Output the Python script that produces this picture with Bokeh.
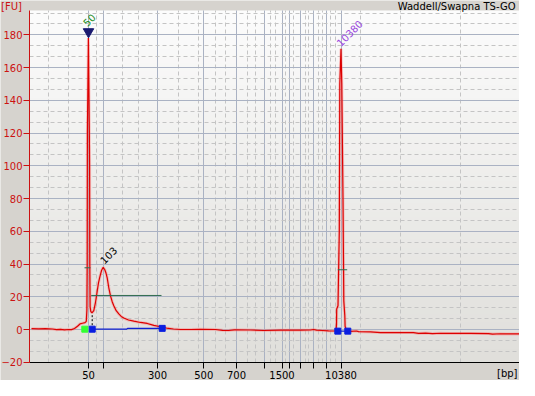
import numpy as np
from bokeh.plotting import figure
from bokeh.models import Range1d, FixedTicker, SingleIntervalTicker, Label, ColumnDataSource
from bokeh.core.properties import value
from bokeh.embed import file_html
from bokeh.resources import INLINE

# ---------------- data (x = migration time, arbitrary units; y = fluorescence FU) -------------
trace_time = [31, 38, 45, 52, 56, 60, 64, 68, 71, 74, 77, 79.5, 82, 84.5, 85.8, 86.4, 86.7, 86.9,
              87.9, 88.8, 89.1, 89.3, 89.6, 90.3, 91.5, 93.3, 95, 96.7, 98, 99.3, 101, 102.7,
              104.3, 105.5, 106.7, 108.3, 110, 111.7, 113.3, 115.7, 118.3, 120.7, 123.3, 128,
              133.3, 140, 146.7, 153.3, 160, 166, 173, 180, 190, 200, 215, 222, 228, 234, 250,
              263, 280, 300, 310, 313, 316, 322, 328, 334, 335.5, 336, 336.2, 337.5, 338.8,
              339.3, 340.5, 341.3, 342.5, 343.3, 344.3, 344.6, 346, 350, 356, 358, 370, 380,
              400, 413, 418, 425, 432, 440, 450, 470, 488, 492, 500, 505, 519]
trace_fu = [0.5, 0.4, 0.5, 0.3, -0.1, 0.1, -0.2, 0.0, -0.1, 0.6, 2.0, 3.4, 3.8, 4.2, 5.0, 12, 40, 121,
            178, 124, 100, 40, 14, 11, 10.2, 11.5, 16.5, 23.5, 28.5, 32, 36, 38,
            36.5, 34.5, 31.5, 25.5, 20.5, 17, 14.5, 11.5, 9.5, 8, 7, 5.8,
            5.1, 4.3, 3.7, 2.5, 1.7, 0.9, 0.3, 0.0, 0.0, 0.1, 0.0, -0.5, -0.6, -0.2, -0.3,
            -0.6, -0.4, -0.4, -0.3, 0.0, -0.4, -0.6, -0.8, -0.9, -0.9, 3, 12.5, 14.5, 60,
            150, 171.5, 150, 80, 17.5, 8.5, 2, -1.0, -1.2, -0.9, -1.3, -1.5, -1.9,
            -1.9, -1.9, -2.4, -2.2, -2.5, -2.3, -2.4, -2.4, -2.5, -2.8, -2.6, -2.7, -2.7]

# ladder (size axis)
ladder_time = [88.0, 102.7, 157.0, 203.3, 236.0, 264.3, 281.5, 288.5, 300.3, 312.7, 325.5, 340.5]
ladder_label = ["50", "", "300", "500", "700", "", "1500", "", "", "", "", "10380"]
minor_time = [48.3, 68.3, 95.7, 121.7, 138.3, 178, 198, 215, 225, 246.7, 255, 270, 275, 285,
              293, 305, 308, 318, 321.7, 330, 335, 360, 400, 460]

# peak labels
peak_x = [88.7, 108.0, 349.0]
peak_y = [189.1, 45.4, 181.1]
peak_text = ["50", "103", "10380"]
peak_color = ["#228b22", "#000000", "#9944dd"]

# marker triangle on lower marker
tri_x = [88.0]
tri_y = [181.9]

# region / baseline annotations
base1_x = [91.7, 126.0, 127.0, 161.7]
base1_y = [0.2, 0.2, 0.7, 0.7]
base2_x = [337.3, 347.3]
base2_y = [-1.0, -1.0]
blue_sq_x = [91.7, 161.7, 337.3, 347.3]
blue_sq_y = [0.2, 0.7, -1.0, -1.0]
green_sq_x = [84.3]
green_sq_y = [0.2]
level_x0 = [90.7, 84.0, 337.3]
level_x1 = [161.0, 90.0, 346.7]
level_y = [20.8, 37.7, 36.5]
peak_start_x = [91.7, 91.7]
peak_start_y = [0.2, 9.8]

# plot-area extents (time / FU)
PX0, PX1 = 29, 519
PY0, PY1 = -20.3, 194.9
# canvas extents (frame covers the whole canvas; axes are pinned inside)
CX0, CX1 = 0, 519
CY0, CY1 = -31.15, 200.98

p = figure(width=519, height=380, output_backend="svg", toolbar_location=None,
           x_range=Range1d(CX0, CX1), y_range=Range1d(CY0, CY1),
           min_border=0, min_border_left=0, min_border_right=0,
           min_border_top=0, min_border_bottom=0)
BG = "#d6d3ce"
p.border_fill_color = BG
p.background_fill_color = BG
p.outline_line_color = None

# gradient backdrop of plot area
n = 80
img = np.empty((n, 1), dtype=np.uint32)
view = img.view(dtype=np.uint8).reshape((n, 1, 4))
top = np.array([252, 252, 252]); bot = np.array([224, 223, 219])
for i in range(n):
    t = i / (n - 1)
    c = bot + (top - bot) * t
    view[i, 0, 0:3] = c.astype(np.uint8)
    view[i, 0, 3] = 255
p.image_rgba(image=[img], x=PX0, y=PY0, dw=PX1 - PX0, dh=PY1 - PY0, level="image")

FONT = value("DejaVu Sans")

# x axis
xt = FixedTicker(ticks=ladder_time, minor_ticks=minor_time)
xa = p.xaxis[0]
xa.ticker = xt
xa.fixed_location = PY0
xa.bounds = (PX0, PX1)
xa.major_label_overrides = {t: l for t, l in zip(ladder_time, ladder_label)}
xa.axis_line_color = "black"
xa.major_tick_line_color = "black"
xa.major_tick_out = 6
xa.major_tick_in = 0
xa.minor_tick_out = 0
xa.minor_tick_in = 0
xa.major_label_standoff = 2
xa.major_label_text_font = "DejaVu Sans"
xa.major_label_text_font_size = "10px"
xa.major_label_text_color = "black"
xg = p.xgrid[0]
xg.ticker = xt
xg.grid_line_color = "#aab2c3"
xg.minor_grid_line_color = "#c4c4c4"
xg.minor_grid_line_dash = "4 3"

# y axis
yt = SingleIntervalTicker(interval=20, num_minor_ticks=3)
ya = p.yaxis[0]
ya.ticker = yt
ya.fixed_location = PX0
ya.bounds = (PY0, PY1)
RED = "#cc1111"
ya.axis_line_color = RED
ya.major_tick_line_color = RED
ya.major_tick_out = 6
ya.major_tick_in = 0
ya.minor_tick_out = 0
ya.minor_tick_in = 0
ya.major_label_standoff = 1
ya.major_label_text_font = "DejaVu Sans"
ya.major_label_text_font_size = "10px"
ya.major_label_text_color = RED
yg = p.ygrid[0]
yg.ticker = yt
yg.grid_line_color = "#aab2c3"
yg.minor_grid_line_color = "#c4c4c4"
yg.minor_grid_line_dash = "4 3"

if "cross_bounds" in xg.properties():
    xg.bounds = (PX0 + 1, PX1)
    xg.cross_bounds = (PY0, PY1)
    yg.bounds = (PY0, PY1)
    yg.cross_bounds = (PX0, PX1)

# trace
src = ColumnDataSource(dict(t=trace_time, fu=trace_fu))
p.line("t", "fu", source=src, line_color="#ff7070", line_width=3, line_alpha=0.35)
p.line("t", "fu", source=src, line_color="#dd0000", line_width=1.2)

# annotations
p.segment(x0=level_x0, y0=level_y, x1=level_x1, y1=level_y, line_color="#2e6b4e", line_width=1)
p.line(peak_start_x, peak_start_y, line_color="black", line_width=1, line_dash="2 2")
p.line(base1_x, base1_y, line_color="#1020d0", line_width=1.2)
p.line(base2_x, base2_y, line_color="#1020d0", line_width=1.2)
p.scatter(blue_sq_x, blue_sq_y, marker="square", size=6, color="#0a1ee0")
p.scatter(green_sq_x, green_sq_y, marker="square", size=6, color="#33ff33")
p.scatter(tri_x, tri_y, marker="inverted_triangle", size=10.5, color="#1a1a70")

p.text(x=peak_x, y=peak_y, text=peak_text, angle=np.pi / 4, text_color=peak_color,
       text_font=FONT, text_font_size="10px", text_align="center", text_baseline="middle")

p.add_layout(Label(x=515, y=200.4, text="Waddell/Swapna TS-GO", text_align="right",
                   text_baseline="top", text_font="DejaVu Sans", text_font_size="10px",
                   text_color="black"))
p.add_layout(Label(x=0.5, y=200.4, text="[FU]", text_align="left", text_baseline="top",
                   text_font="DejaVu Sans", text_font_size="10px", text_color=RED))
p.add_layout(Label(x=517, y=-30.3, text="[bp]", text_align="right", text_baseline="bottom",
                   text_font="DejaVu Sans", text_font_size="10px", text_color="black"))

open("out.html", "w").write(file_html(p, INLINE))
